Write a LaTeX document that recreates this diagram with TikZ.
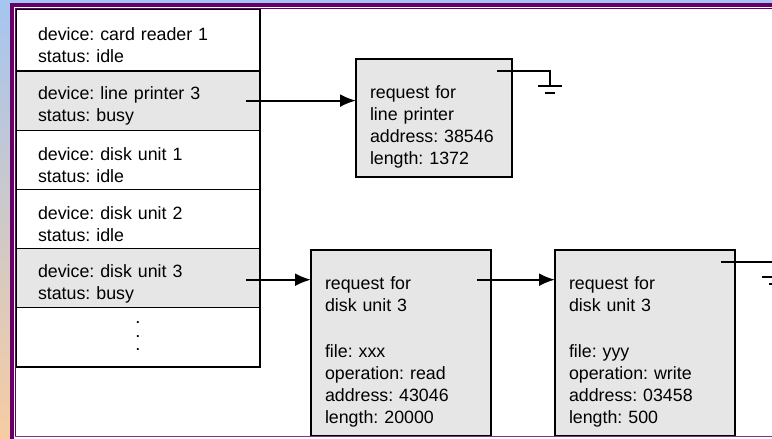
\documentclass[tikz,border=0pt]{standalone}
\usepackage{fontspec}
\setmainfont{Liberation Sans}
\frenchspacing
\usetikzlibrary{arrows.meta,
                positioning}
\definecolor{framepurple}{RGB}{102,0,102}
\definecolor{boxgray}{RGB}{230,230,230}
\definecolor{skyblue}{RGB}{165,198,240}
\definecolor{peach}{RGB}{247,204,162}
\tikzset{devrow/.style=
   {rectangle,
    draw,
    line width=1.3pt,
    outer sep=0pt,
    minimum height=59.2pt,
    text width=200pt,
    inner xsep=22pt,
    align=left,
    execute at begin node={\rule{0pt}{24pt}},
    font=\fontsize{17.8}{22}\selectfont}}
\tikzset{request/.style =
   {rectangle,
    draw,
    fill=boxgray,
    line width=1.3pt,
    outer sep=0pt,
    anchor=north west,
    inner xsep=14pt,
    align=left,
    execute at begin node={\rule{0pt}{30pt}},
    font=\fontsize{17.8}{22}\selectfont}}
\tikzset{more/.style =
   {inner sep=0pt,
    align=center,
    font=\fontsize{13}{13.5}\selectfont\bfseries}}
\tikzset{arrow/.style = {draw, line width=2.2pt, -{Latex[length=16pt,width=13pt]}}}
\tikzset{nil/.style = {draw, line width=2pt}}

\begin{document}
\begin{tikzpicture}[x=1pt,y=-1pt]

    \useasboundingbox (0,0) rectangle (772,439);

    % frame
    \fill [white] (0,0) rectangle (772,439);
    \shade [top color=skyblue, bottom color=peach] (0,0) rectangle (10,439);
    \fill [skyblue] (0,0) rectangle (772,3);
    \fill [framepurple] (10,3) rectangle (772,6.5);
    \fill [framepurple] (10,3) rectangle (13.5,439);

    % device status table
    \node [devrow,
           anchor=north west,
           minimum height=62pt] (dev0) at (16,9)
    {device: card reader 1\\status: idle};
    \node [devrow,
           fill=boxgray,
           below=0pt of dev0] (dev1)
    {device: line printer 3\\status: busy};
    \node [devrow,
           below=0pt of dev1] (dev2)
    {device: disk unit 1\\status: idle};
    \node [devrow,
           below=0pt of dev2] (dev3)
    {device: disk unit 2\\status: idle};
    \node [devrow,
           fill=boxgray,
           below=0pt of dev3] (dev4)
    {device: disk unit 3\\status: busy};
    \node [devrow,
           execute at begin node={},
           below=0pt of dev4] (dev5) {};
    \node [more] (dev5dots) at ([yshift=1pt]dev5.center) {.\\.\\.};

    % request queues
    \node [request,
           minimum width=156pt,
           minimum height=118pt,
           text width=128pt] (lp) at (356,59)
    {request for\\line printer\\address: 38546\\length: 1372};

    \node [request,
           minimum width=180pt,
           minimum height=186pt,
           text width=152pt] (dk1) at (311,250)
    {request for\\disk unit 3\\[24pt]file: xxx\\operation: read\\address: 43046\\length: 20000};

    \node [request,
           minimum width=180pt,
           minimum height=186pt,
           text width=152pt] (dk2) at (555,250)
    {request for\\disk unit 3\\[24pt]file: yyy\\operation: write\\address: 03458\\length: 500};

    % links
    \coordinate (lptail) at ([xshift=-14pt]dev1.east);
    \draw [arrow] (lptail) -- (lptail -| lp.west);
    \coordinate (dktail) at ([xshift=-14pt,yshift=-1.5pt]dev4.east);
    \draw [arrow] (dktail) -- (dktail -| dk1.west);
    \path (dk1.east |- dktail) ++(-14,0) coordinate (dknext);
    \draw [arrow] (dknext) -- (dknext -| dk2.west);

    % end of list
    \draw [nil] ([xshift=-15pt,yshift=-12pt]lp.north east) -- ++(53,0) -- ++(0,15) coordinate (lpgnd);
    \draw [nil] ([xshift=-12pt]lpgnd) -- ([xshift=12pt]lpgnd);
    \draw [nil] ([xshift=-5pt,yshift=-7pt]lpgnd) -- ([xshift=5pt,yshift=-7pt]lpgnd);
    \draw [nil] ([xshift=-14pt,yshift=-12pt]dk2.north east) -- ++(53,0) -- ++(0,15) coordinate (dkgnd);
    \draw [nil] ([xshift=-12pt]dkgnd) -- ([xshift=12pt]dkgnd);
    \draw [nil] ([xshift=-5pt,yshift=-7pt]dkgnd) -- ([xshift=5pt,yshift=-7pt]dkgnd);

    % inner frame line
    \draw [framepurple, line width=1pt] (15,436.5) -- (15,8) -- (772,8);
    \draw [framepurple!80, line width=1pt] (15,436.5) -- (772,436.5);

\end{tikzpicture}
\end{document}
